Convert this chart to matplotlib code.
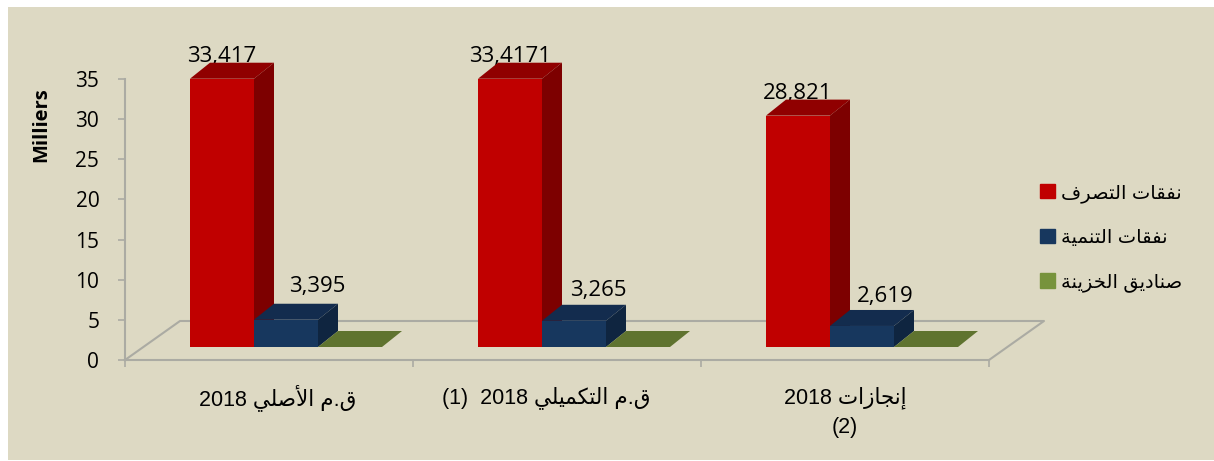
import matplotlib
matplotlib.use("Agg")
import matplotlib.pyplot as plt
from matplotlib.patches import Rectangle

# values in thousands
red_vals = [33.417, 33.417, 28.821]
blue_vals = [3.395, 3.265, 2.619]
green_vals = [0, 0, 0]
red_labels = ["33,417", "33,4171", "28,821"]
blue_labels = ["3,395", "3,265", "2,619"]
yticks = [0, 5, 10, 15, 20, 25, 30, 35]
series_names = ["نفقات التصرف", "نفقات التنمية", "صناديق الخزينة"]
cat_arabic = ["ق.م الأصلي", "ق.م التكميلي", "إنجازات"]
cat_left = ["2018 ", "(1)  2018 ", "2018 "]
cat_extra = ["", "", "(2)"]

# base codepoint of presentation forms, True when the letter joins both ways
forms = {"ا": (0xFE8D, False), "أ": (0xFE83, False), "إ": (0xFE87, False),
         "د": (0xFEA9, False), "ر": (0xFEAD, False), "ز": (0xFEAF, False),
         "ة": (0xFE93, False), "ت": (0xFE95, True), "ج": (0xFE9D, True),
         "خ": (0xFEA5, True), "ص": (0xFEB9, True), "ف": (0xFED1, True),
         "ق": (0xFED5, True), "ك": (0xFED9, True), "ل": (0xFEDD, True),
         "م": (0xFEE1, True), "ن": (0xFEE5, True), "ي": (0xFEF1, True)}
lam_alef = {"أ": 0xFEF7, "إ": 0xFEF9, "ا": 0xFEFB}


def shape(s):
    # matplotlib does no arabic shaping, so pick the joined forms by hand
    out = []
    i = 0
    prev_joins = False
    while i < len(s):
        c = s[i]
        if c not in forms:
            out.append(c)
            prev_joins = False
            i += 1
            continue
        if c == "ل" and i + 1 < len(s) and s[i + 1] in lam_alef:
            out.append(chr(lam_alef[s[i + 1]] + (1 if prev_joins else 0)))
            prev_joins = False
            i += 2
            continue
        base, dual = forms[c]
        next_ok = i + 1 < len(s) and s[i + 1] in forms
        if dual and next_ok:
            out.append(chr(base + (3 if prev_joins else 2)))
            prev_joins = True
        else:
            out.append(chr(base + (1 if prev_joins else 0)))
            prev_joins = False
        i += 1
    return "".join(out)[::-1]


W, H = 1214, 461
BG = "#DDD9C3"
GRID = "#ABABA3"
PX_X = 3 / 864.0   # one pixel in category units
PX_Y = 35 / 281.0  # one pixel in value units
lift = 13 * PX_Y
bar_w = 64 * PX_X
bar_gap = 65 * PX_X
dx = 20 * PX_X
dy = 16 * PX_Y
floor_dx = 55 * PX_X
floor_dy = 39 * PX_Y

plt.rcParams['font.family'] = ['Liberation Sans', 'DejaVu Sans']

fig = plt.figure(figsize=(W / 100, H / 100), dpi=100, facecolor='w')
fig.patches.append(Rectangle((8 / W, 1 / H), (W - 8) / W, 453 / H, transform=fig.transFigure,
                             facecolor=BG, edgecolor='none', zorder=-1))
ax = fig.add_axes([125 / W, (H - 360) / H, 864 / W, 281 / H])
ax.patch.set_visible(False)
ax.set_xlim(0, 3)
ax.set_ylim(0, 35)

# floor
ax.plot([0, floor_dx, 3 + floor_dx, 3], [0, floor_dy, floor_dy, 0], color=GRID, lw=1.5,
        clip_on=False, zorder=1)


def bars3d(xs, vals, front, top, side):
    rects = ax.bar(xs, vals, bar_w, bottom=lift, align='edge', color=front, clip_on=False, zorder=3)
    for x, v in zip(xs, vals):
        y = lift + v
        ax.fill([x, x + bar_w, x + bar_w + dx, x + dx], [y, y, y + dy, y + dy], color=top,
                lw=0, clip_on=False, zorder=3)
        ax.fill([x + bar_w, x + bar_w + dx, x + bar_w + dx, x + bar_w],
                [y, y + dy, lift + dy, lift], color=side, lw=0, clip_on=False, zorder=3)
    return rects


red_x = [i + bar_gap for i in range(3)]
blue_x = [x + bar_w for x in red_x]
green_x = [x + bar_w for x in blue_x]
bars3d(red_x, red_vals, "#C00000", "#900000", "#7D0000")
bars3d(blue_x, blue_vals, "#17375E", "#132C4E", "#0F2540")
bars3d(green_x, green_vals, "#77933C", "#5F732F", "#5F732F")

# value labels
blue_shift = [31, 24, 23]
blue_rise = [33, 30, 29]
for x, v, s in zip(red_x, red_vals, red_labels):
    ax.text(x + bar_w / 2, lift + v + 22 * PX_Y, s, ha='center', va='center', fontsize=16,
            family='Open Sans', color='k', zorder=2)
for x, v, s, sh, r in zip(blue_x, blue_vals, blue_labels, blue_shift, blue_rise):
    ax.text(x + bar_w / 2 + sh * PX_X, lift + v + r * PX_Y, s, ha='center', va='center', fontsize=16,
            family='Open Sans', color='k', zorder=4)

# axes
for side in ['top', 'right']:
    ax.spines[side].set_visible(False)
for side in ['left', 'bottom']:
    ax.spines[side].set_color(GRID)
    ax.spines[side].set_linewidth(1.5)
ax.set_yticks(yticks)
ax.set_xticks([0, 1, 2, 3])
ax.set_xticklabels([])
ax.tick_params(axis='both', length=5, width=1.2, color=GRID)
ax.tick_params(axis='y', pad=13.5)
for t in ax.get_yticklabels():
    t.set_fontsize(15)
    t.set_family('Open Sans')
ax.set_ylabel("Milliers", fontsize=14.5, fontweight='bold', family='Open Sans')
ax.yaxis.set_label_coords(-74 / 864, (360 - 125) / 281)

# category labels
cat_pos = [0.53, 1.462, 2.50]
for p, left, ar, extra in zip(cat_pos, cat_left, cat_arabic, cat_extra):
    ax.text(p, -38 * PX_Y, left + shape(ar), ha='center', va='center', fontsize=15.5, color='k')
    if extra:
        ax.text(p, -67 * PX_Y, extra, ha='center', va='center', fontsize=15.5, color='k')

# legend
handles = [Rectangle((0, 0), 1, 1, color=c) for c in ["#C00000", "#17375E", "#77933C"]]
fig.legend(handles, [shape(s) for s in series_names], frameon=False, fontsize=14,
           loc='center left', bbox_to_anchor=(1040 / W, (H - 238) / H), handlelength=0.77,
           handleheight=0.77, handletextpad=0.3, labelspacing=1.35, borderpad=0, borderaxespad=0)

fig.savefig("out.png", dpi=100, facecolor=fig.get_facecolor())
